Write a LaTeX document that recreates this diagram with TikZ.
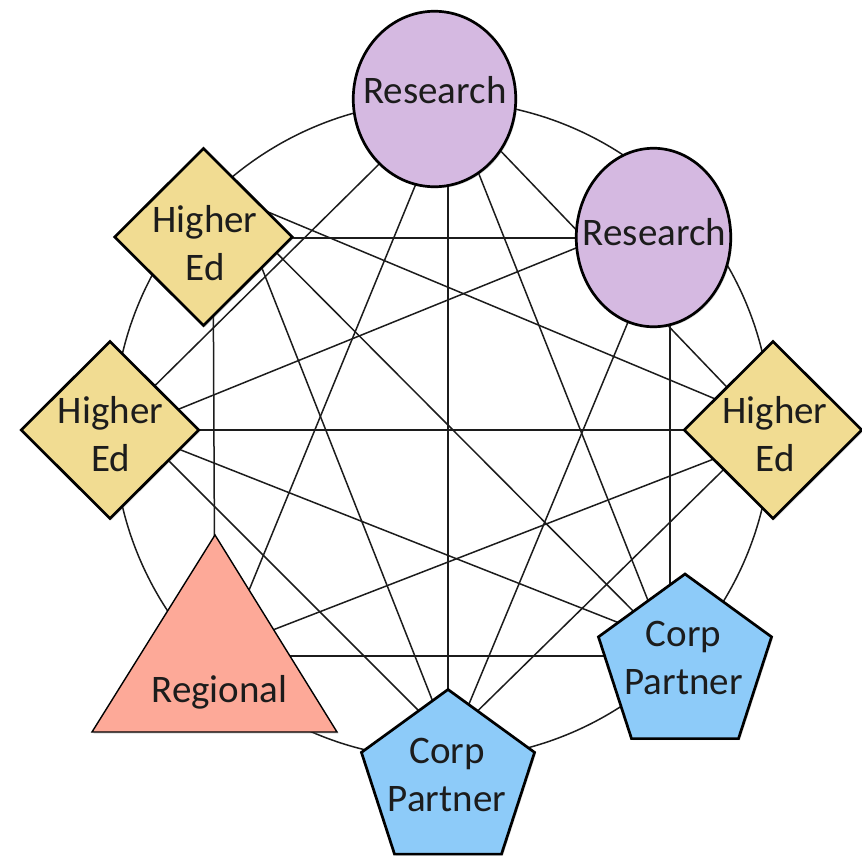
\documentclass[tikz,border=0pt]{standalone}
\usepackage{fontspec}
\setmainfont{Carlito}
\usetikzlibrary{shapes.geometric,shadows}
\definecolor{resfill}{RGB}{213,185,225}
\definecolor{hefill}{RGB}{241,220,146}
\definecolor{regfill}{RGB}{253,169,152}
\definecolor{corpfill}{RGB}{141,203,249}
\definecolor{ink}{RGB}{28,28,28}
\begin{document}
\begin{tikzpicture}[x=1pt,y=-1pt,
  link/.style={draw=ink, line width=1.5pt},
  ring/.style={draw=ink, line width=1.5pt},
  softshadow/.style={drop shadow={shadow xshift=1.5pt,shadow yshift=-1.5pt,opacity=0.28}},
  resbox/.style={ellipse, draw=black, line width=2.7pt, fill=resfill, inner sep=0pt, outer sep=0pt, softshadow},
  hebox/.style={diamond, draw=black, line width=2.7pt, fill=hefill, inner sep=0pt, outer sep=0pt, minimum width=177.5, minimum height=177, softshadow},
  corpbox/.style={regular polygon, regular polygon sides=5, draw=black, line width=2.7pt, fill=corpfill, inner sep=0pt, outer sep=0pt, minimum size=182, softshadow},
  regbox/.style={draw=black, line width=1.4pt, fill=regfill, line join=miter, softshadow},
  lbl/.style={font=\fontsize{39}{48}\selectfont, text=ink, align=center, inner sep=0pt}
]
\useasboundingbox (0,0) rectangle (862,857);

% big ring
\draw[ring] (442.5,430) circle[radius=329pt];

% hidden end points of the links
\coordinate (RTa) at (448,96);
\coordinate (RTb) at (452,96);
\coordinate (RRa) at (670,238);
\coordinate (RRb) at (650,218);
\coordinate (RRc) at (663,238);
\coordinate (HRa) at (768,430);
\coordinate (HRb) at (768,421);
\coordinate (HRc) at (768,438);
\coordinate (HRd) at (768,426);
\coordinate (CRa) at (670,656);
\coordinate (CRb) at (670,648);
\coordinate (CRc) at (670,643);
\coordinate (CBa) at (448,740);
\coordinate (CBb) at (454,740);
\coordinate (RGa) at (215,656);
\coordinate (RGb) at (222,656);
\coordinate (RGc) at (216,652);
\coordinate (HLa) at (110,430);
\coordinate (HLb) at (110,437);
\coordinate (HLc) at (110,422);
\coordinate (HLd) at (110,402);
\coordinate (HTa) at (213,238);
\coordinate (HTb) at (213,189);
\coordinate (HTc) at (241,215);

% links
\draw[link] (RTa) -- (CBa);
\draw[link] (RRa) -- (CRa);
\draw[link] (HTa) -- (RGa);
\draw[link] (HTa) -- (RRa);
\draw[link] (HLa) -- (HRa);
\draw[link] (RGa) -- (CRa);
\draw[link] (RTa) -- (HRa);
\draw[link] (RTa) -- (HLa);
\draw[link] (RTb) -- (RGb);
\draw[link] (RTa) -- (CRa);
\draw[link] (HTb) -- (HRb);
\draw[link] (HTc) -- (CBa);
\draw[link] (HTb) -- (CRb);
\draw[link] (RRb) -- (HLb);
\draw[link] (HLc) -- (CRc);
\draw[link] (HLd) -- (CBa);
\draw[link] (RGc) -- (HRc);
\draw[link] (RRc) -- (CBb);
\draw[link] (HRd) -- (CBa);

% shapes
\node[resbox, minimum width=162.5, minimum height=175.5] (RT) at (434.5,99) {};
\node[resbox, minimum width=154.5, minimum height=178.5] (RR) at (653.5,237.5) {};
\node[hebox] (HT) at (203.5,237) {};
\node[hebox] (HL) at (110,430) {};
\node[hebox] (HR) at (773,430) {};
\node[corpbox] (CR) at (685,665) {};
\node[corpbox] (CB) at (448,780.5) {};
\draw[regbox] (215,535) -- (92,732) -- (337,732) -- cycle;

% labels
\node[lbl] (RTt) at (435,90) {Research};
\node[lbl] (RRt) at (654.5,232) {Research};
\node[lbl] (HTt) at (205,243) {Higher\\Ed};
\node[lbl] (HLt) at (110.5,434.5) {Higher\\Ed};
\node[lbl] (HRt) at (775,434.5) {Higher\\Ed};
\node[lbl] (RG) at (219.5,692) {Regional};
\node[lbl] (CBt) at (447,774.5) {Corp\\Partner};
\node[lbl] (CRt) at (683.5,657.5) {Corp\\Partner};
\end{tikzpicture}
\end{document}
